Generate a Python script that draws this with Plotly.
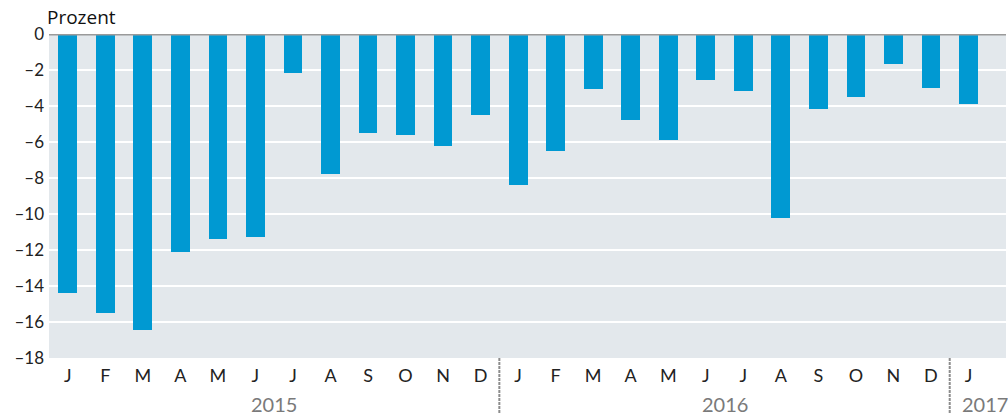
import plotly.graph_objects as go

months = ["J", "F", "M", "A", "M", "J", "J", "A", "S", "O", "N", "D",
          "J", "F", "M", "A", "M", "J", "J", "A", "S", "O", "N", "D",
          "J"]
values = [-14.4, -15.5, -16.45, -12.1, -11.4, -11.3, -2.17, -7.8, -5.5, -5.6, -6.2, -4.5,
          -8.4, -6.5, -3.05, -4.8, -5.9, -2.55, -3.15, -10.2, -4.15, -3.5, -1.67, -3.0,
          -3.9]
years = ["2015", "2016", "2017"]
year_centers = [5.5, 17.5, 24.45]
year_breaks = [11.5, 23.5]
y_ticks = [0, -2, -4, -6, -8, -10, -12, -14, -16, -18]

x = list(range(len(values)))
FONT = "Lato"

fig = go.Figure(go.Bar(x=x, y=values, width=0.5, marker_color="#0099d2",
                       marker_line_width=0))

fig.update_layout(
    width=1008, height=417,
    margin=dict(l=49, r=2, t=34, b=59),
    plot_bgcolor="#e3e8ec", paper_bgcolor="white",
    showlegend=False,
    font=dict(family=FONT, size=17, color="#222"),
    bargap=0,
)
fig.update_xaxes(range=[-0.5, 25.0], tickvals=x, ticktext=months, showgrid=False,
                 zeroline=False, ticks="", ticklabelstandoff=5,
                 tickfont=dict(size=18, color="#222"))
fig.update_yaxes(range=[-18, 0], tickvals=y_ticks,
                 ticktext=[("–" + str(-v)) if v < 0 else "0" for v in y_ticks],
                 showgrid=True, gridcolor="white", gridwidth=2,
                 zeroline=False, ticks="", ticklabelstandoff=4,
                 tickfont=dict(size=17, color="#222"))

fig.add_shape(type="line", xref="paper", yref="y", x0=0, x1=1, y0=0, y1=0,
              line=dict(color="#9a9a9a", width=3), layer="above")

for b in year_breaks:
    fig.add_shape(type="line", xref="x", yref="paper", x0=b, x1=b, y0=0, y1=-0.17,
                  line=dict(color="#8c8c8c", width=2, dash="3px,1px"))

for yr, c in zip(years, year_centers):
    fig.add_annotation(text=yr, x=c, xref="x", y=0, yref="paper", yshift=-46,
                       yanchor="middle", showarrow=False,
                       font=dict(family=FONT, size=20, color="#7a7a7a"))

fig.add_annotation(text="Prozent", xref="paper", yref="paper", x=0, y=1,
                   xanchor="left", yanchor="bottom", xshift=-4, yshift=2,
                   showarrow=False, font=dict(family="Open Sans", size=19, color="#111"))

fig.write_html(
    "out.html",
    config={"displayModeBar": False},
    post_script="document.body.style.margin='0';document.body.style.overflow='hidden';",
)
